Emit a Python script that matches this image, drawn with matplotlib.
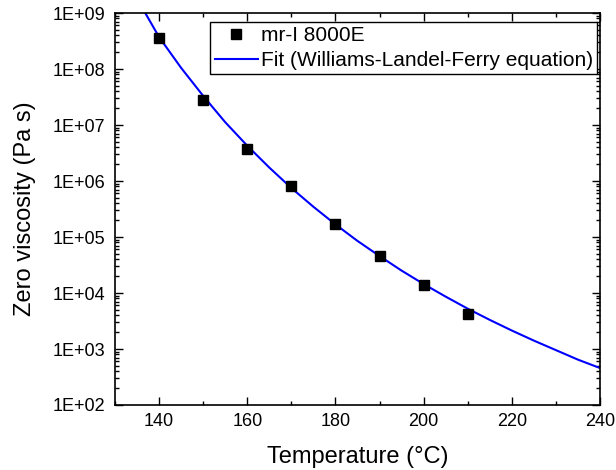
import numpy as np
import matplotlib
matplotlib.use("Agg")
import matplotlib.pyplot as plt
from matplotlib.ticker import FuncFormatter, LogLocator, MultipleLocator

plt.rcParams['font.family'] = ['Liberation Sans', 'DejaVu Sans']

# measured zero viscosity (Pa s)
temp_meas = [140, 150, 160, 170, 180, 190, 200, 210]
eta_meas = [3.6e8, 2.8e7, 3.7e6, 8.0e5, 1.7e5, 4.6e4, 1.38e4, 4.2e3]

# WLF fit curve (log10 of viscosity)
temp_fit = [136.5, 140, 145, 150, 155, 160, 165, 170, 175, 180, 185,
            190, 195, 200, 205, 210, 215, 220, 225, 230, 235, 240]
log_eta_fit = [9.05, 8.57, 8.02, 7.52, 7.05, 6.63, 6.24, 5.875, 5.54, 5.225, 4.93,
               4.66, 4.40, 4.16, 3.935, 3.72, 3.52, 3.33, 3.15, 2.98, 2.81, 2.66]
eta_fit = [10 ** v for v in log_eta_fit]

fig = plt.figure(figsize=(6.16, 4.70), dpi=100)
ax = fig.add_axes([0.1867, 0.1383, 0.7873, 0.834])

ax.plot(temp_fit, eta_fit, color='#0000ff', lw=1.5,
        label='Fit (Williams-Landel-Ferry equation)', zorder=2)
ax.plot(temp_meas, eta_meas, 's', color='black', ms=6.5,
        label='mr-I 8000E', zorder=3)

ax.set_yscale('log')
ax.set_xlim(130, 240)
ax.set_ylim(1e2, 1e9)

ax.xaxis.set_major_locator(MultipleLocator(20))
ax.xaxis.set_minor_locator(MultipleLocator(10))
ax.yaxis.set_major_locator(LogLocator(base=10, numticks=20))
ax.yaxis.set_minor_locator(LogLocator(base=10, subs=np.arange(2, 10), numticks=20))
ax.yaxis.set_major_formatter(FuncFormatter(lambda v, p: "1E+%02d" % int(round(np.log10(v)))))

ax.tick_params(which='both', direction='in', top=True, right=True, width=1.0)
ax.tick_params(which='major', length=6, labelsize=13)
ax.tick_params(which='minor', length=3)
ax.tick_params(axis='x', which='major', pad=6)
ax.tick_params(axis='y', which='major', pad=7)
ax.xaxis.set_ticklabels([], minor=True)

for s in ax.spines.values():
    s.set_linewidth(1.2)

ax.set_xlabel('Temperature (°C)', fontsize=17, labelpad=11)
ax.set_ylabel('Zero viscosity (Pa s)', fontsize=17, labelpad=12)

handles, labels = ax.get_legend_handles_labels()
leg = ax.legend(handles[::-1], labels[::-1], loc='upper right',
                bbox_to_anchor=(0.994, 0.977), fontsize=15, frameon=True,
                fancybox=False, edgecolor='black', framealpha=1,
                handlelength=2.1, handletextpad=0.12, labelspacing=0.28,
                borderpad=0.2, borderaxespad=0.0)
leg.get_frame().set_linewidth(1.0)

fig.savefig('out.png', dpi=100)
